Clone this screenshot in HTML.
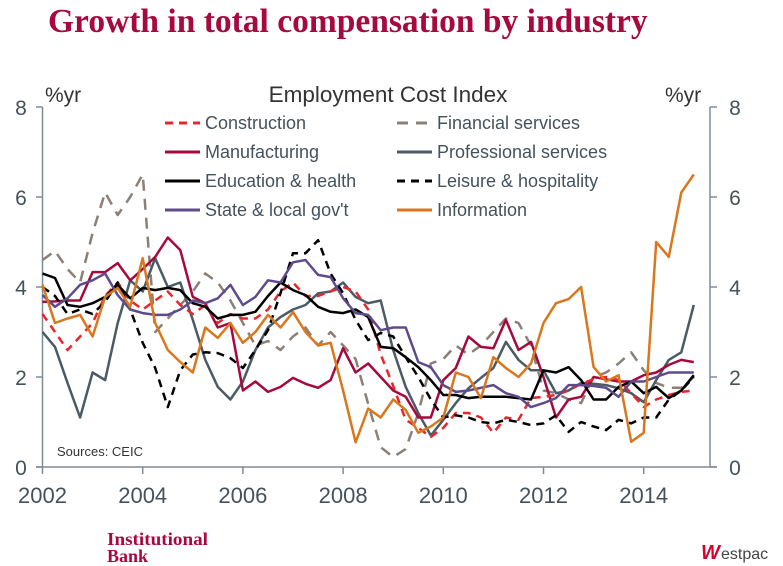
<!DOCTYPE html>
<html><head><meta charset="utf-8">
<style>
body{margin:0;background:#fff;width:783px;height:566px;overflow:hidden;font-family:"Liberation Sans",sans-serif;}
svg{position:absolute;left:0;top:0}
</style></head><body>
<svg id="c" width="783" height="566" xmlns="http://www.w3.org/2000/svg">
<text x="48" y="32" font-family="Liberation Serif,serif" font-weight="bold" font-size="33.5" fill="#a6093d">Growth in total compensation by industry</text>
<text x="388" y="102" text-anchor="middle" font-size="22.5" fill="#333">Employment Cost Index</text>
<text x="45" y="102" font-size="21" fill="#333">%yr</text>
<text x="665" y="102" font-size="21" fill="#333">%yr</text>
<text x="57" y="456" font-size="13" fill="#333">Sources: CEIC</text>
<g>
<text x="107" y="545" font-family="Liberation Serif,serif" font-weight="bold" font-size="18" fill="#a6093d" textLength="101" lengthAdjust="spacingAndGlyphs">Institutional</text>
<text x="107" y="562" font-family="Liberation Serif,serif" font-weight="bold" font-size="18" fill="#a6093d">Bank</text>
</g>
<g>
<text x="701" y="559" font-weight="bold" font-size="20" fill="#d5002b" font-style="italic">W</text>
<text x="721" y="559" font-size="16" fill="#444">estpac</text>
</g>
<g id="axes"></g>
<g id="series"></g>
<g id="legend"></g>
</svg>
<script>
const years=[2002,2004,2006,2008,2010,2012,2014];
const yTicks=[0,2,4,6,8];
const seriesNames=["Construction","Financial services","Manufacturing","Professional services","Education & health","Leisure & hospitality","State & local gov't","Information"];
const construction=[3.4,3.0,2.6,2.9,3.2,3.8,4.1,3.7,3.5,3.7,3.9,3.6,3.4,3.6,3.2,3.4,3.3,3.3,3.5,3.9,4.1,3.8,3.8,3.9,4.0,3.9,3.5,2.5,1.8,1.05,0.87,0.67,0.87,1.2,1.2,1.1,0.76,1.1,1.05,1.53,1.56,1.6,1.7,1.85,1.95,2.0,1.93,1.64,1.33,1.5,1.6,1.67,1.7];
const financial=[4.6,4.8,4.4,4.1,5.2,6.1,5.6,6.0,6.5,3.0,3.3,3.6,3.9,4.3,4.1,3.7,3.2,2.7,2.8,2.6,2.9,3.1,2.7,3.0,2.7,2.4,1.4,0.44,0.22,0.4,1.2,2.3,2.4,2.7,2.5,2.7,3.0,3.3,3.2,2.7,1.7,1.64,1.5,1.42,2.0,2.1,2.3,2.55,2.15,1.87,1.76,1.76,2.0];
const manufacturing=[3.67,3.68,3.7,3.7,4.33,4.33,4.53,4.15,4.4,4.67,5.1,4.82,3.78,3.64,3.1,3.2,1.7,1.9,1.67,1.78,1.98,1.85,1.76,1.93,2.64,2.1,2.3,2.0,1.7,1.56,1.1,1.1,1.93,2.2,2.9,2.67,2.64,3.27,2.6,2.78,2.0,1.1,1.5,1.56,2.0,1.95,1.9,1.9,2.04,2.1,2.27,2.38,2.33];
const professional=[3.0,2.67,1.87,1.1,2.1,1.93,3.2,4.15,3.9,4.64,4.0,4.1,3.27,2.38,1.78,1.5,1.9,2.6,3.1,3.33,3.5,3.6,3.86,3.9,4.1,3.78,3.64,3.7,2.6,1.78,1.2,0.7,1.05,1.42,1.75,1.98,2.2,2.78,2.38,2.15,2.15,1.64,1.7,1.87,1.85,1.82,1.75,1.64,1.44,1.93,2.38,2.55,3.6];
const education=[4.3,4.2,3.6,3.56,3.64,3.78,4.05,3.75,3.98,3.93,3.98,3.93,3.64,3.56,3.3,3.38,3.38,3.45,3.8,4.1,3.93,3.82,3.56,3.45,3.42,3.5,3.33,2.67,2.64,2.44,2.22,1.93,1.6,1.6,1.53,1.56,1.56,1.56,1.53,1.5,2.15,2.1,2.22,1.93,1.5,1.5,1.78,1.9,1.64,1.78,1.53,1.7,2.04];
const leisure=[4.0,3.8,3.4,3.5,3.4,3.67,4.1,3.5,2.76,2.2,1.33,2.15,2.5,2.55,2.53,2.42,2.2,2.6,3.04,3.86,4.75,4.75,5.04,4.3,3.86,3.27,2.82,2.98,2.9,2.44,2.0,1.5,1.1,1.15,1.1,1.0,0.97,1.05,1.0,0.93,0.97,1.15,0.78,1.0,0.9,0.82,1.05,0.97,1.1,1.1,1.5,1.7,2.0];
const stateLocal=[3.82,3.56,3.75,4.05,4.15,4.3,3.82,3.5,3.42,3.38,3.38,3.5,3.7,3.64,3.75,4.05,3.6,3.78,4.15,4.1,4.55,4.6,4.27,4.22,3.75,3.42,3.38,3.04,3.1,3.1,2.33,2.22,1.82,1.67,1.7,1.76,1.82,1.64,1.56,1.33,1.42,1.53,1.82,1.82,1.8,1.76,1.56,1.9,1.9,2.0,2.1,2.1,2.1];
const information=[4.05,3.2,3.3,3.38,2.9,3.78,3.98,3.56,4.64,3.2,2.6,2.33,2.1,3.1,2.87,3.2,2.76,3.0,3.38,3.1,3.44,3.0,2.7,2.76,1.7,0.55,1.3,1.1,1.5,1.27,0.76,0.9,1.1,2.1,2.0,1.53,2.44,2.2,2.0,2.3,3.2,3.64,3.73,4.0,2.22,1.9,2.04,0.56,0.76,5.0,4.67,6.1,6.5];
const startYear=2002;

const NS="http://www.w3.org/2000/svg";
const X=t=>42.5+(t-2002)*50.1;
const Y=v=>467-v*45;
function mk(tag,attrs,parent){const e=document.createElementNS(NS,tag);for(const k in attrs)e.setAttribute(k,attrs[k]);parent.appendChild(e);return e;}
const axes=document.getElementById('axes');
let el=mk('line',{x1:42.5,y1:107,x2:42.5,y2:467,stroke:'#7f8c94','stroke-width':1.5},axes);


el=mk('line',{x1:710,y1:107,x2:710,y2:467,stroke:'#7f8c94','stroke-width':1.5},axes);


el=mk('line',{x1:36,y1:467,x2:717,y2:467,stroke:'#7f8c94','stroke-width':1.5},axes);


yTicks.forEach(v=>{
  mk('line',{x1:36,y1:Y(v),x2:42.5,y2:Y(v),stroke:'#7f8c94','stroke-width':1.5},axes);
  mk('line',{x1:710,y1:Y(v),x2:717,y2:Y(v),stroke:'#7f8c94','stroke-width':1.5},axes);
  let t=mk('text',{x:21,y:Y(v)+8,'text-anchor':'middle','font-size':21,fill:'#44525c'},axes);t.textContent=v;
  
  
  t=mk('text',{x:735,y:Y(v)+8,'text-anchor':'middle','font-size':21,fill:'#44525c'},axes);t.textContent=v;
  
  
});
years.forEach(yr=>{
  mk('line',{x1:X(yr),y1:467,x2:X(yr),y2:474,stroke:'#7f8c94','stroke-width':1.5},axes);
  const t=mk('text',{x:X(yr),y:503,'text-anchor':'middle','font-size':22,fill:'#44525c'},axes);t.textContent=yr;
  
  
});
const styles=[
 {d:construction,c:'#e8262b',dash:'8,6',n:'construction-line'},
 {d:financial,c:'#8c7f76',dash:'11,8',n:'financial-services-line'},
 {d:manufacturing,c:'#a6093d',dash:'',n:'manufacturing-line'},
 {d:professional,c:'#4b5b65',dash:'',n:'professional-services-line'},
 {d:education,c:'#000',dash:'',n:'education-health-line'},
 {d:leisure,c:'#000',dash:'8,6',n:'leisure-hospitality-line'},
 {d:stateLocal,c:'#5f4b8b',dash:'',n:'state-local-line'},
 {d:information,c:'#d9771e',dash:'',n:'information-line'}];
const sg=document.getElementById('series');
const order=[1,3,2,0,5,4,6,7];
order.forEach(i=>{const s=styles[i];
  const pts=s.d.map((v,k)=>X(startYear+k/4).toFixed(1)+','+Y(v).toFixed(1)).join(' ');
  const p=mk('polyline',{points:pts,fill:'none',stroke:s.c,'stroke-width':2.5,'stroke-linejoin':'round'},sg);
  if(s.dash)p.setAttribute('stroke-dasharray',s.dash);
  
  
});
const lg=document.getElementById('legend');
seriesNames.forEach((nm,i)=>{const s=styles[i];
  const col=i%2,row=Math.floor(i/2);
  const x0=col?397:165,y0=123+row*29;
  const g=mk('g',{},lg);
  
  
  const l=mk('line',{x1:x0,y1:y0,x2:x0+35,y2:y0,stroke:s.c,'stroke-width':3},g);
  if(s.dash)l.setAttribute('stroke-dasharray',s.dash);
  const t=mk('text',{x:x0+40,y:y0+6,'font-size':18,fill:'#44525c'},g);t.textContent=nm;
});
</script>
</body></html>
